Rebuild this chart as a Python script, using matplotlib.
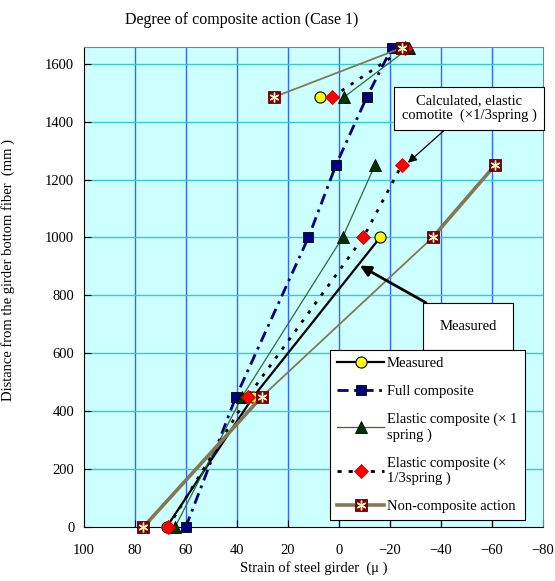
import numpy as np
import matplotlib.pyplot as plt
from matplotlib.lines import Line2D
from matplotlib.legend_handler import HandlerTuple

plt.rcParams['font.family'] = ['Liberation Serif', 'DejaVu Serif']

nan = np.nan
# heights of the gauges (mm) and strains (micro) for each series
heights = [0, 450, 1000, 1250, 1485, 1655]
measured = [67.6, 33.6, -16.1, nan, 7.5, nan]
full_comp = [60.1, 40.4, 12.0, 1.2, -10.9, -20.7]
elastic_1 = [64.3, 38.0, -1.4, -14.1, -2.0, -27.5]
elastic_3 = [67.0, 35.8, -9.5, -24.6, 2.6, -26.0]
non_comp = [76.7, 30.3, -36.7, -61.2, 25.5, -24.6]

labels = ["Measured", "Full composite", "Elastic composite (× 1\nspring )",
          "Elastic composite (×\n1/3spring )", "Non-composite action"]


def with_gap(vals):
    # break the line between the 1250 and 1485 gauges
    v = list(vals)
    return v[:4] + [nan] + v[4:]


h_gap = with_gap(heights)

fig = plt.figure(figsize=(5.55, 5.81), dpi=100)
ax = fig.add_axes([84 / 555, 1 - 527 / 581, 459 / 555, 480 / 581])
ax.set_facecolor('#CCFFFF')

# grid
for gx in range(-60, 100, 20):
    ax.axvline(gx, color='#3366FF', lw=1, zorder=0)
for gy in range(200, 1700, 200):
    ax.axhline(gy, color='#33CCCC', lw=1, zorder=0)

# measured
ax.plot(with_gap(measured), h_gap, color='black', lw=1.6, marker='o', ms=8,
        mfc='#FFFF00', mec='black', mew=0.8, clip_on=False, zorder=3)

# full composite
l_full, = ax.plot(full_comp, heights, color='#000080', lw=2, marker='s', ms=6.5,
                  mfc='#000080', mec='black', mew=0.6, clip_on=False, zorder=3)
l_full.set_dashes((4, 2, 1, 2))

# elastic composite x1 spring
ax.plot(with_gap(elastic_1), h_gap, color='#2E6B2E', lw=0.9, marker='^', ms=9,
        mfc='#003300', mec='black', mew=0.6, clip_on=False, zorder=3)

# elastic composite x1/3 spring
l_e3, = ax.plot(with_gap(elastic_3), h_gap, color='black', lw=2, marker='D', ms=7,
                mfc='#FF0000', mec='#CC0000', mew=0.6, clip_on=False, zorder=3)
l_e3.set_dashes((1.2, 2.8))

# non-composite (segment widths differ)
nc_x = with_gap(non_comp)
seg_w = [2.6, 1.3, 2.6, 0, 0, 1.3]
for i in range(len(nc_x) - 1):
    if seg_w[i] > 0:
        ax.plot(nc_x[i:i + 2], h_gap[i:i + 2], color='#857850', lw=seg_w[i],
                solid_capstyle='butt', zorder=3)
ax.plot(non_comp, heights, ls='none', marker='s', ms=9, mfc='#800000',
        mec='#600000', mew=0.6, clip_on=False, zorder=4)
ax.plot(non_comp, heights, ls='none', marker=(6, 2, 0), ms=7, mec='#FFF2C8',
        mew=1, clip_on=False, zorder=5)

ax.set_xlim(100, -80)
ax.set_ylim(0, 1658)
ax.set_xticks(range(100, -81, -20))
ax.set_yticks(range(0, 1601, 200))
ax.tick_params(direction='in', length=5, labelsize=10.5, colors='black')
ax.tick_params(axis='x', pad=12)
ax.tick_params(axis='y', pad=7)
for s in ['top', 'right']:
    ax.spines[s].set_color('#808080')

ax.set_xlabel("Strain of steel girder  (μ )", fontsize=10.5)
ax.xaxis.set_label_coords(0.5, -0.071)
ax.set_ylabel("Distance from the girder bottom fiber  (mm )", fontsize=10.5)
ax.yaxis.set_label_coords(-0.150, 0.535)

fig.text(242 / 555, 1 - 20 / 581, "Degree of composite action (Case 1)",
         fontsize=11.5, ha='center', va='center')

# callouts
ax.annotate("Measured", xy=(-8.2, 903), xytext=(-50.6, 693), fontsize=10.5,
            ha='center', va='center',
            bbox=dict(boxstyle='square,pad=1.15', fc='white', ec='black', lw=0.8),
            arrowprops=dict(arrowstyle='-|>', color='black', lw=2,
                            mutation_scale=16, shrinkA=0, shrinkB=0),
            zorder=6)
ax.annotate("Calculated, elastic\ncomotite  (×1/3spring )", xy=(-27, 1258),
            xytext=(-51, 1447), fontsize=10.5, ha='center', va='center',
            bbox=dict(boxstyle='square,pad=0.5', fc='white', ec='black', lw=0.8),
            arrowprops=dict(arrowstyle='-|>', color='black', lw=0.9,
                            mutation_scale=13, shrinkA=0, shrinkB=0),
            zorder=6)

# legend
h_meas = Line2D([], [], color='black', lw=1.6, marker='o', ms=8, mfc='#FFFF00',
                mec='black', mew=0.8)
h_full = Line2D([], [], color='#000080', lw=2, marker='s', ms=6.5, mfc='#000080',
                mec='black', mew=0.6, dashes=(4, 2, 1, 2))
h_e1 = Line2D([], [], color='#2E6B2E', lw=0.9, marker='^', ms=9, mfc='#003300',
              mec='black', mew=0.6)
h_e3 = Line2D([], [], color='black', lw=2, marker='D', ms=7, mfc='#FF0000',
              mec='#CC0000', mew=0.6, dashes=(1.5, 2.5))
h_nc1 = Line2D([], [], color='#857850', lw=2.6, marker='s', ms=9, mfc='#800000',
               mec='#600000', mew=0.6)
h_nc2 = Line2D([], [], ls='none', marker=(6, 2, 0), ms=7, mec='#FFF2C8', mew=1)
leg = ax.legend([h_meas, h_full, h_e1, h_e3, (h_nc1, h_nc2)], labels,
                handler_map={tuple: HandlerTuple(ndivide=1, pad=0)},
                loc='upper left', bbox_to_anchor=(0.536, 0.369), fontsize=10.5,
                frameon=True, fancybox=False, edgecolor='black', framealpha=1,
                handlelength=3.2, handletextpad=0.2, labelspacing=1.0,
                borderpad=0.5, borderaxespad=0)
leg.get_frame().set_linewidth(0.8)
leg.set_zorder(7)

plt.savefig('out.png', dpi=100)
